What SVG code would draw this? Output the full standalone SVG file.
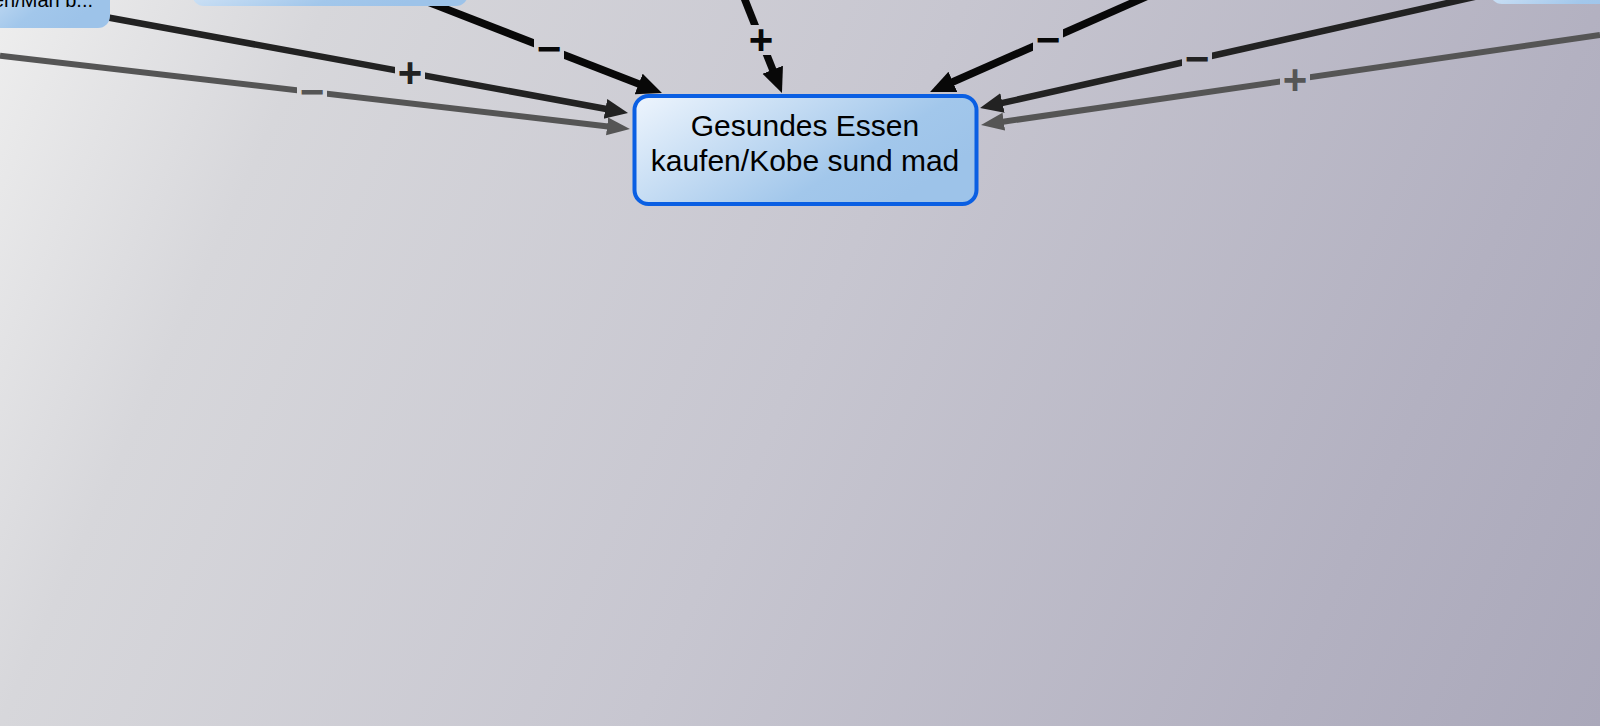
<svg xmlns="http://www.w3.org/2000/svg" width="1600" height="726" viewBox="0 0 1600 726">
  <defs>
    <linearGradient id="bg" gradientUnits="userSpaceOnUse" x1="0" y1="0" x2="1600" y2="726">
      <stop offset="0" stop-color="#eeeeee"/>
      <stop offset="0.17" stop-color="#d7d7db"/>
      <stop offset="0.5" stop-color="#c7c6d0"/>
      <stop offset="0.83" stop-color="#b3b1c1"/>
      <stop offset="1" stop-color="#aaa8ba"/>
    </linearGradient>
    <linearGradient id="nodeFill" x1="0" y1="0" x2="1" y2="0.5">
      <stop offset="0" stop-color="#eef5fd"/>
      <stop offset="0.75" stop-color="#a2c7eb"/>
      <stop offset="1" stop-color="#9dc3e9"/>
    </linearGradient>
    <marker id="arrBlack" markerUnits="userSpaceOnUse" markerWidth="26" markerHeight="24" refX="1" refY="11" orient="auto" viewBox="0 0 26 24">
      <path d="M0,0 L25,11 L0,22 Z" fill="#080808"/>
    </marker>
    <marker id="arrDark" markerUnits="userSpaceOnUse" markerWidth="24" markerHeight="22" refX="1" refY="10" orient="auto" viewBox="0 0 24 22">
      <path d="M0,0 L23,10 L0,20 Z" fill="#222222"/>
    </marker>
    <marker id="arrGray" markerUnits="userSpaceOnUse" markerWidth="24" markerHeight="20" refX="1" refY="9" orient="auto" viewBox="0 0 24 20">
      <path d="M0,0 L23,9 L0,18 Z" fill="#555555"/>
    </marker>
    <style>
      .edge { fill: none; stroke-linecap: butt; }
      .black { stroke: #080808; stroke-width: 7.5; marker-end: url(#arrBlack); }
      .dark { stroke: #222222; stroke-width: 6.5; marker-end: url(#arrDark); }
      .gray { stroke: #555555; stroke-width: 6; marker-end: url(#arrGray); }
      .gap { fill: url(#bg); }
      .lbl { font-family: "Liberation Sans", Arial, sans-serif; font-size: 42px; font-weight: bold; text-anchor: middle; }
      .node { fill: url(#nodeFill); }
      .ntext { font-family: "Liberation Sans", Arial, sans-serif; fill: #000000; text-anchor: middle; }
    </style>
  </defs>

  <rect x="0" y="0" width="1600" height="726" fill="url(#bg)"/>

  <g id="connectors">
    <line class="edge dark" x1="100" y1="16" x2="606.4" y2="109"/>
    <rect class="gap" x="395" y="58" width="30" height="30"/>
    <text class="lbl" x="410" y="87" fill="#222222">+</text>

    <line class="edge gray" x1="0" y1="55.7" x2="608.1" y2="126.5"/>
    <rect class="gap" x="297" y="77" width="30" height="30"/>
    <text class="lbl" x="312" y="106" fill="#555555">−</text>

    <line class="edge black" x1="410" y1="-5" x2="639.6" y2="84.3"/>
    <rect class="gap" x="534" y="34" width="30" height="30"/>
    <text class="lbl" x="549" y="63" fill="#080808">−</text>

    <line class="edge black" x1="743" y1="-5" x2="773.1" y2="70.7"/>
    <rect class="gap" x="746" y="25" width="30" height="30"/>
    <text class="lbl" x="761" y="54" fill="#080808">+</text>

    <line class="edge black" x1="1150" y1="-5" x2="952" y2="82.3"/>
    <rect class="gap" x="1033" y="25" width="30" height="30"/>
    <text class="lbl" x="1048" y="54" fill="#080808">−</text>

    <line class="edge dark" x1="1480" y1="-4.3" x2="1001.5" y2="103.2"/>
    <rect class="gap" x="1182" y="44" width="30" height="30"/>
    <text class="lbl" x="1197" y="73" fill="#222222">−</text>

    <line class="edge gray" x1="1600" y1="35" x2="1002.8" y2="121.8"/>
    <rect class="gap" x="1280" y="65" width="30" height="30"/>
    <text class="lbl" x="1295" y="94" fill="#555555">+</text>
  </g>

  <g id="node-topleft">
    <rect class="node" x="-60" y="-40" width="170" height="68" rx="12"/>
    <text class="ntext" x="93" y="7" font-size="20" style="text-anchor:end">en/Man b...</text>
  </g>

  <g id="node-topmid">
    <rect class="node" x="192" y="-50" width="276" height="56" rx="12"/>
  </g>

  <g id="node-topright">
    <rect class="node" x="1490" y="-50" width="200" height="54" rx="12"/>
  </g>

  <g id="node-main">
    <rect class="node" x="634.5" y="96" width="342" height="108" rx="14" stroke="#0a5fe3" stroke-width="4"/>
    <text class="ntext" x="805" y="135.7" font-size="30">Gesundes Essen</text>
    <text class="ntext" x="805" y="170.7" font-size="30">kaufen/Kobe sund mad</text>
  </g>
</svg>
